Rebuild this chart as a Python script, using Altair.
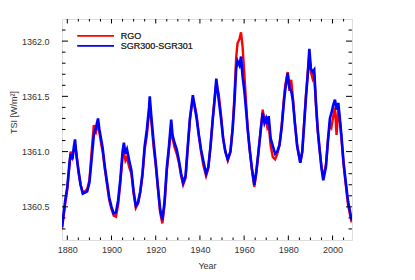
import altair as alt
import pandas as pd

# ---- data ----
years = [
    1877.6, 1879.0, 1880.0, 1881.0, 1881.5, 1882.3, 1883.0, 1883.5, 1884.2, 1885.0,
    1886.0, 1887.0, 1888.0, 1889.0, 1890.0, 1891.0, 1892.0, 1893.0, 1893.9, 1894.5,
    1895.4, 1896.0, 1897.0, 1898.0, 1899.0, 1900.0, 1901.0, 1902.0, 1903.0, 1904.0,
    1905.0, 1905.6, 1906.3, 1907.0, 1908.0, 1909.0, 1910.0, 1911.0, 1912.0, 1913.0,
    1914.0, 1915.0, 1916.0, 1917.0, 1917.3, 1918.0, 1919.0, 1920.0, 1921.0, 1922.0,
    1923.0, 1924.0, 1925.0, 1926.0, 1927.0, 1927.6, 1928.5, 1929.5, 1930.5, 1931.5,
    1932.4, 1933.5, 1934.5, 1935.5, 1936.8, 1937.6, 1938.5, 1939.5, 1940.5, 1941.5,
    1942.8, 1943.8, 1944.8, 1945.8, 1946.8, 1947.4, 1948.5, 1949.6, 1950.5, 1951.5,
    1952.6, 1953.8, 1954.8, 1955.6, 1956.4, 1957.0, 1957.9, 1958.6, 1959.3, 1960.1,
    1961.0, 1961.6, 1962.5, 1963.5, 1964.6, 1965.5, 1966.5, 1967.7, 1968.4, 1969.2,
    1969.9, 1970.5, 1971.1, 1972.0, 1973.0, 1974.0, 1975.0, 1976.0, 1977.0, 1978.0,
    1978.6, 1979.7, 1980.5, 1981.3, 1982.0, 1983.0, 1984.0, 1985.4, 1986.3, 1987.0,
    1988.0, 1988.8, 1989.5, 1990.2, 1991.0, 1991.7, 1992.5, 1993.3, 1994.0, 1995.0,
    1995.8, 1997.0, 1998.0, 1998.8, 1999.5, 2000.3, 2001.1, 2001.8, 2002.6, 2003.3,
    2004.0, 2005.0, 2006.0, 2007.0, 2008.0, 2008.6,
]

sgr = [
    1360.32, 1360.55, 1360.68, 1360.90, 1360.98, 1360.93, 1361.05, 1361.11, 1360.95, 1360.84,
    1360.70, 1360.62, 1360.63, 1360.64, 1360.72, 1360.93, 1361.15, 1361.22, 1361.30, 1361.20,
    1361.10, 1361.03, 1360.86, 1360.72, 1360.58, 1360.50, 1360.44, 1360.45, 1360.56, 1360.75,
    1361.00, 1361.08, 1360.98, 1361.02, 1360.92, 1360.83, 1360.64, 1360.51, 1360.54, 1360.64,
    1360.80, 1361.05, 1361.20, 1361.40, 1361.50, 1361.32, 1361.10, 1360.90, 1360.68, 1360.48,
    1360.38, 1360.55, 1360.85, 1361.05, 1361.29, 1361.15, 1361.08, 1361.02, 1360.92, 1360.80,
    1360.72, 1360.78, 1361.05, 1361.30, 1361.51, 1361.41, 1361.30, 1361.15, 1361.02, 1360.92,
    1360.80, 1360.86, 1361.05, 1361.29, 1361.50, 1361.66, 1361.47, 1361.29, 1361.12, 1361.00,
    1360.93, 1361.00, 1361.20, 1361.44, 1361.75, 1361.82, 1361.78, 1361.86, 1361.68, 1361.55,
    1361.35, 1361.20, 1361.02, 1360.85, 1360.70, 1360.82, 1361.00, 1361.23, 1361.35, 1361.26,
    1361.30, 1361.25, 1361.32, 1361.12, 1361.05, 1360.98, 1361.00, 1361.06, 1361.22, 1361.45,
    1361.56, 1361.71, 1361.58, 1361.55, 1361.47, 1361.25, 1361.05, 1360.90, 1361.00, 1361.20,
    1361.50, 1361.70, 1361.93, 1361.75, 1361.72, 1361.74, 1361.44, 1361.20, 1361.05, 1360.85,
    1360.74, 1360.86, 1361.12, 1361.30, 1361.35, 1361.42, 1361.47, 1361.38, 1361.44, 1361.30,
    1361.15, 1360.90, 1360.72, 1360.55, 1360.45, 1360.38,
]

rgo = [
    1360.30, 1360.52, 1360.66, 1360.88, 1361.00, 1360.95, 1361.02, 1361.05, 1360.98, 1360.82,
    1360.70, 1360.63, 1360.64, 1360.66, 1360.74, 1361.00, 1361.24, 1361.18, 1361.25, 1361.18,
    1361.06, 1361.00, 1360.84, 1360.70, 1360.56, 1360.48, 1360.42, 1360.41, 1360.52, 1360.72,
    1360.95, 1361.00, 1360.92, 1360.95, 1360.86, 1360.80, 1360.62, 1360.49, 1360.53, 1360.63,
    1360.78, 1361.02, 1361.15, 1361.36, 1361.44, 1361.28, 1361.05, 1360.88, 1360.66, 1360.45,
    1360.35, 1360.52, 1360.82, 1361.02, 1361.22, 1361.12, 1361.04, 1360.98, 1360.90, 1360.78,
    1360.70, 1360.76, 1361.03, 1361.30, 1361.48, 1361.42, 1361.33, 1361.15, 1361.00, 1360.88,
    1360.78, 1360.85, 1361.05, 1361.30, 1361.52, 1361.62, 1361.52, 1361.32, 1361.12, 1361.00,
    1360.92, 1361.00, 1361.22, 1361.50, 1361.85, 1361.98, 1362.02, 1362.08, 1361.95, 1361.70,
    1361.40, 1361.22, 1361.02, 1360.84, 1360.68, 1360.80, 1361.00, 1361.24, 1361.38, 1361.28,
    1361.30, 1361.22, 1361.25, 1361.05, 1360.95, 1360.93, 1360.98, 1361.06, 1361.24, 1361.48,
    1361.60, 1361.72, 1361.55, 1361.65, 1361.50, 1361.25, 1361.05, 1360.90, 1361.00, 1361.22,
    1361.52, 1361.72, 1361.88, 1361.72, 1361.66, 1361.70, 1361.42, 1361.18, 1361.05, 1360.86,
    1360.77, 1360.88, 1361.12, 1361.25, 1361.22, 1361.32, 1361.40, 1361.15, 1361.38, 1361.28,
    1361.12, 1360.88, 1360.70, 1360.52, 1360.42, 1360.36,
]

legend_labels = ["RGO", "SGR300-SGR301"]
legend_colors = ["#ff0000", "#0000ff"]

x_domain = [1877.6, 2008.8]
y_domain = [1360.2, 1362.2]
x_major = [1880, 1900, 1920, 1940, 1960, 1980, 2000]
x_minor = [1885, 1890, 1895, 1905, 1910, 1915, 1925, 1930, 1935, 1945, 1950,
           1955, 1965, 1970, 1975, 1985, 1990, 1995, 2005]
y_major = [1360.5, 1361.0, 1361.5, 1362.0]
y_minor = [1360.3, 1360.4, 1360.6, 1360.7, 1360.8, 1360.9, 1361.1, 1361.2,
           1361.3, 1361.4, 1361.6, 1361.7, 1361.8, 1361.9, 1362.1]

assert len(years) == len(sgr) == len(rgo)

W, H = 290, 221
FONT = "Liberation Sans"
TXT = "#333333"

df_rgo = pd.DataFrame({"year": years, "tsi": rgo})
df_sgr = pd.DataFrame({"year": years, "tsi": sgr})

xs = alt.Scale(domain=x_domain, nice=False, zero=False)
ys = alt.Scale(domain=y_domain, nice=False, zero=False)

x_axis = alt.Axis(values=x_major, format="d", ticks=False, domain=False, grid=False,
                  labelFont=FONT, labelFontSize=9, labelColor=TXT, labelPadding=5,
                  title="Year", titleFont=FONT, titleFontSize=9, titleFontWeight="normal",
                  titleColor=TXT, titleY=28.5, titleBaseline="alphabetic")
y_axis = alt.Axis(values=y_major, format=".1f", ticks=False, domain=False, grid=False,
                  labelFont=FONT, labelFontSize=9, labelColor=TXT, labelPadding=13,
                  title="TSI [W/m²]", titleFont=FONT, titleFontSize=9,
                  titleFontWeight="normal", titleColor=TXT,
                  titleX=-46, titleY=93, titleBaseline="alphabetic", titleAngle=270)

X = alt.X("year:Q", scale=xs, axis=x_axis)
Y = alt.Y("tsi:Q", scale=ys, axis=y_axis)

line_rgo = alt.Chart(df_rgo).mark_line(color=legend_colors[0], strokeWidth=2.4, clip=True).encode(x=X, y=Y)
line_sgr = alt.Chart(df_sgr).mark_line(color=legend_colors[1], strokeWidth=2.6, clip=True).encode(x=X, y=Y)

def xticks(vals, length, top):
    d = pd.DataFrame({"year": vals})
    if top:
        yy, yy2 = 0, length
    else:
        yy, yy2 = H, H - length
    return alt.Chart(d).mark_rule(color="black", strokeWidth=1).encode(
        x=X, y=alt.value(yy), y2=alt.value(yy2))

def yticks(vals, length, right):
    d = pd.DataFrame({"tsi": vals})
    if right:
        xx, xx2 = W, W - length
    else:
        xx, xx2 = 0, length
    return alt.Chart(d).mark_rule(color="black", strokeWidth=1).encode(
        y=Y, x=alt.value(xx), x2=alt.value(xx2))

tick_layers = [
    xticks(x_major, 4.5, False), xticks(x_minor, 2.5, False),
    xticks(x_major, 4.5, True), xticks(x_minor, 2.5, True),
    yticks(y_major, 6, False), yticks(y_minor, 3.5, False),
    yticks(y_major, 6, True), yticks(y_minor, 3.5, True),
]

leg_df = pd.DataFrame({"label": legend_labels})
leg_layers = []
for i, (lab, col) in enumerate(zip(legend_labels, legend_colors)):
    yy = 16.7 + 10 * i
    leg_layers.append(alt.Chart(leg_df).mark_rule(color=col, strokeWidth=1.6).encode(
        x=alt.value(15.4), x2=alt.value(52), y=alt.value(yy)))
    leg_layers.append(alt.Chart(leg_df).mark_text(
        align="left", baseline="middle", font=FONT, fontSize=9, color=TXT).encode(
        x=alt.value(58.7), y=alt.value(yy), text=alt.value(lab)))

chart = alt.layer(line_rgo, line_sgr, *tick_layers, *leg_layers).properties(
    width=W, height=H,
    autosize=alt.AutoSizeParams(type="none"),
    padding={"left": 54, "top": 11, "right": 50, "bottom": 30},
).configure_view(stroke="black", strokeWidth=1).configure(background="white")

chart.save("out.html", embed_options={"renderer": "svg", "actions": False})
